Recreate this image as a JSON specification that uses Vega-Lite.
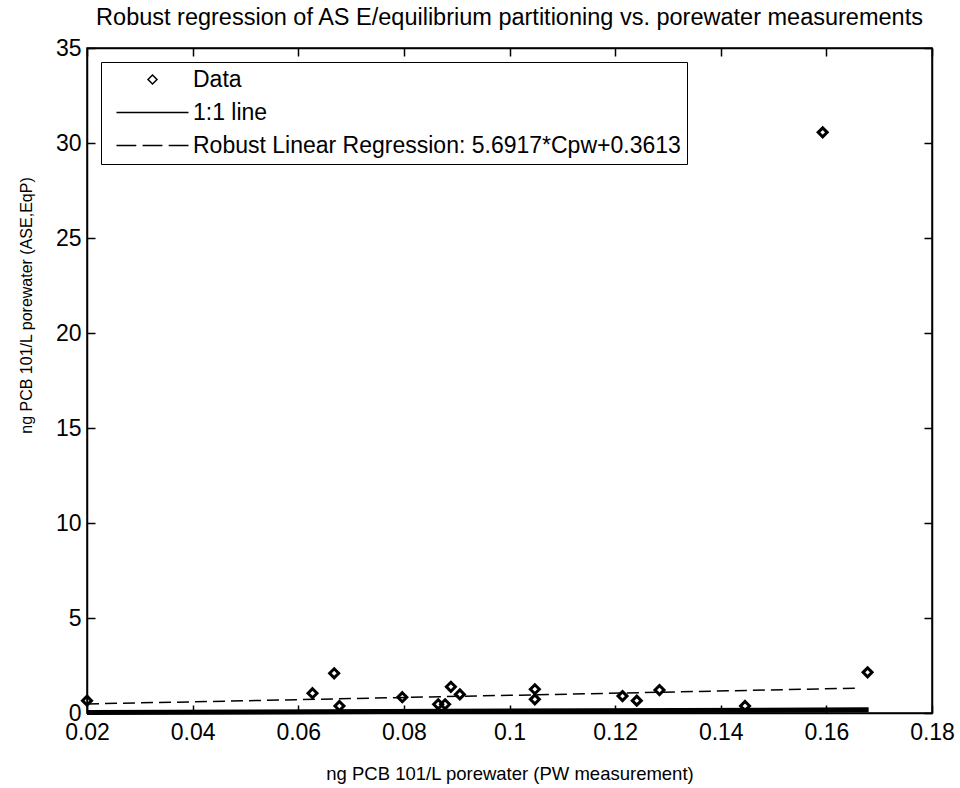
{
  "$schema": "https://vega.github.io/schema/vega-lite/v6.json",
  "width": 845,
  "height": 665,
  "autosize": "none",
  "padding": {"left": 87, "top": 48, "right": 28, "bottom": 75},
  "background": "white",
  "title": {
    "text": "Robust regression of AS E/equilibrium partitioning vs. porewater measurements",
    "font": "Liberation Sans",
    "fontSize": 23.5,
    "fontWeight": "normal",
    "color": "black",
    "offset": 8,
    "anchor": "middle"
  },
  "config": {
    "view": {"stroke": "black", "strokeWidth": 1.5},
    "font": "Liberation Sans",
    "axis": {
      "grid": false,
      "domainColor": "black",
      "domainWidth": 1.5,
      "tickColor": "black",
      "tickWidth": 1.5,
      "tickSize": -8,
      "labelColor": "black",
      "labelFont": "Liberation Sans",
      "labelFontSize": 23,
      "labelFlush": false,
      "titleFont": "Liberation Sans",
      "titleFontSize": 23,
      "titleFontWeight": "normal",
      "titleColor": "black"
    }
  },
  "resolve": {"axis": {"x": "independent", "y": "independent"}},
  "datasets": {
    "points": [
      {"pw": 0.0200, "ase": 0.65, "series": "Data"},
      {"pw": 0.0627, "ase": 1.04, "series": "Data"},
      {"pw": 0.0668, "ase": 2.09, "series": "Data"},
      {"pw": 0.0678, "ase": 0.37, "series": "Data"},
      {"pw": 0.0797, "ase": 0.83, "series": "Data"},
      {"pw": 0.0865, "ase": 0.46, "series": "Data"},
      {"pw": 0.0878, "ase": 0.46, "series": "Data"},
      {"pw": 0.0889, "ase": 1.38, "series": "Data"},
      {"pw": 0.0906, "ase": 0.98, "series": "Data"},
      {"pw": 0.1048, "ase": 1.25, "series": "Data"},
      {"pw": 0.1048, "ase": 0.72, "series": "Data"},
      {"pw": 0.1214, "ase": 0.89, "series": "Data"},
      {"pw": 0.1241, "ase": 0.65, "series": "Data"},
      {"pw": 0.1284, "ase": 1.21, "series": "Data"},
      {"pw": 0.1446, "ase": 0.37, "series": "Data"},
      {"pw": 0.1593, "ase": 30.56, "series": "Data"},
      {"pw": 0.1678, "ase": 2.14, "series": "Data"}
    ],
    "oneone": [
      {"pw": 0.02, "ase": 0.02},
      {"pw": 0.168, "ase": 0.168}
    ],
    "reg": [
      {"pw": 0.02, "ase": 0.475},
      {"pw": 0.166, "ase": 1.306}
    ]
  },
  "layer": [
    {
      "data": {"name": "oneone"},
      "mark": {"type": "line", "color": "black", "strokeWidth": 5},
      "encoding": {
        "x": {"field": "pw", "type": "quantitative", "axis": null},
        "y": {"field": "ase", "type": "quantitative", "axis": null}
      }
    },
    {
      "data": {"name": "reg"},
      "mark": {"type": "line", "color": "black", "strokeWidth": 1.5, "strokeDash": [12, 6]},
      "encoding": {
        "x": {"field": "pw", "type": "quantitative", "axis": null},
        "y": {"field": "ase", "type": "quantitative", "axis": null}
      }
    },
    {
      "data": {"name": "points"},
      "mark": {"type": "point", "filled": false, "stroke": "black", "strokeWidth": 3, "size": 324, "opacity": 1},
      "encoding": {
        "x": {
          "field": "pw", "type": "quantitative",
          "scale": {"domain": [0.02, 0.18], "nice": false, "zero": false},
          "axis": {"orient": "bottom", "values": [0.02, 0.04, 0.06, 0.08, 0.1, 0.12, 0.14, 0.16, 0.18], "format": ".2~f", "labelPadding": 16, "title": "ng PCB 101/L porewater (PW measurement)", "titleFontSize": 18.5, "titlePadding": 20}
        },
        "y": {
          "field": "ase", "type": "quantitative",
          "scale": {"domain": [0, 35], "nice": false},
          "axis": {"orient": "left", "values": [0, 5, 10, 15, 20, 25, 30, 35], "labelPadding": 14, "title": "ng PCB 101/L porewater (ASE,EqP)", "titleFontSize": 16, "titleAngle": -90, "titleX": -61, "titleY": 257, "titleAlign": "center", "titleBaseline": "middle"}
        },
        "shape": {
          "field": "series", "type": "nominal",
          "scale": {
            "domain": ["Data", "1:1 line", "Robust Linear Regression: 5.6917*Cpw+0.3613"],
            "range": ["M0,-0.5L0.5,0L0,0.5L-0.5,0Z", "M-4,0H4", "M-4,0H-1.8M-1.1,0H1.1M1.8,0H4"]
          },
          "legend": {
            "title": null,
            "orient": "top-left",
            "offset": 14,
            "strokeColor": "black",
            "fillColor": "white",
            "padding": 6,
            "rowPadding": 9,
            "symbolSize": 324,
            "symbolOffset": 34,
            "symbolFillColor": "transparent",
            "symbolStrokeColor": "black",
            "symbolOpacity": 1,
            "labelFont": "Liberation Sans",
            "labelFontSize": 23,
            "labelColor": "black",
            "labelOffset": 29,
            "labelLimit": 700,
            "encode": {
              "legend": {"update": {"strokeWidth": {"value": 1.5}}},
              "symbols": {"update": {"strokeWidth": {"signal": "datum.value === '1:1 line' ? 4 : datum.value === 'Data' ? 3 : 1.5"}}}
            }
          }
        }
      }
    },
    {
      "data": {"name": "points"},
      "mark": {"type": "point", "opacity": 0},
      "encoding": {
        "x": {"field": "pw", "type": "quantitative", "axis": {"orient": "top", "values": [0.02, 0.04, 0.06, 0.08, 0.1, 0.12, 0.14, 0.16, 0.18], "labels": false, "title": null}},
        "y": {"field": "ase", "type": "quantitative", "axis": {"orient": "right", "values": [0, 5, 10, 15, 20, 25, 30, 35], "labels": false, "title": null}}
      }
    }
  ]
}
